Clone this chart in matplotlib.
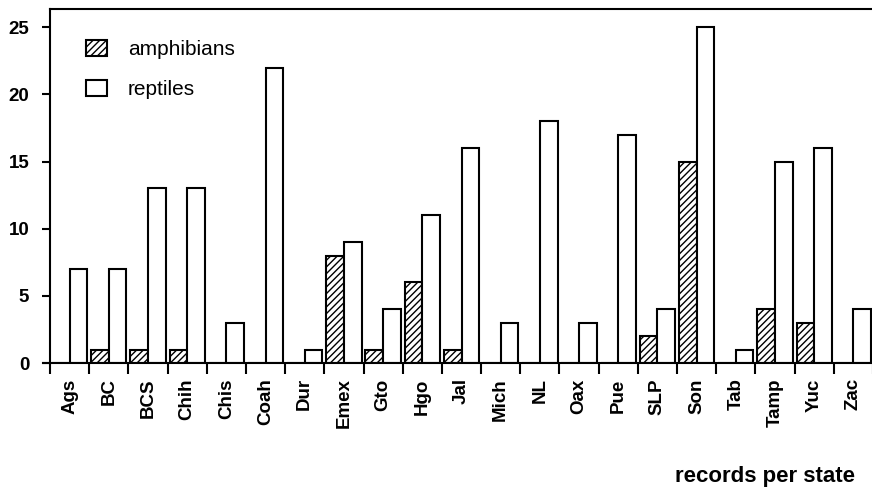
import matplotlib
matplotlib.use("Agg")
import matplotlib.pyplot as plt
from matplotlib.patches import Patch
from matplotlib.lines import Line2D
import numpy as np

plt.rcParams['font.family'] = ['Liberation Sans', 'DejaVu Sans']
plt.rcParams['hatch.linewidth'] = 1.0

states = ["Ags", "BC", "BCS", "Chih", "Chis", "Coah", "Dur", "Emex", "Gto", "Hgo",
          "Jal", "Mich", "NL", "Oax", "Pue", "SLP", "Son", "Tab", "Tamp", "Yuc", "Zac"]
amphibians = [0, 1, 1, 1, 0, 0, 0, 8, 1, 6, 1, 0, 0, 0, 0, 2, 15, 0, 4, 3, 0]
reptiles = [7, 7, 13, 13, 3, 22, 1, 9, 4, 11, 16, 3, 18, 3, 17, 4, 25, 1, 15, 16, 4]
y_ticks = [0, 5, 10, 15, 20, 25]

W, H = 872, 494
fig = plt.figure(figsize=(W / 100, H / 100), dpi=100)
ax = fig.add_axes([50 / W, 131 / H, 823 / W, 354.5 / H])

x = np.arange(len(states))
bw = 0.45
ax.bar(x, amphibians, width=-bw, align='edge', color='white', edgecolor='black',
       linewidth=1.5, hatch='/////', label='amphibians')
ax.bar(x, reptiles, width=bw, align='edge', color='white', edgecolor='black',
       linewidth=1.5, label='reptiles')

ax.set_xlim(-0.5, len(states) - 0.5)
ax.set_ylim(0, 26.4)

ax.spines['right'].set_visible(False)
for s in ('left', 'bottom', 'top'):
    ax.spines[s].set_linewidth(1.5)

# x axis line runs a little past the y axis on the left
ax.add_line(Line2D([-7 / 823, 0], [0, 0], transform=ax.transAxes, color='black',
                   linewidth=1.5, clip_on=False))

ax.set_xticks(x)
ax.set_xticklabels(states, rotation=90, fontsize=13.5, fontweight='bold', va='top')
ax.set_xticks(np.arange(len(states) + 1) - 0.5, minor=True)
ax.tick_params(axis='x', which='major', length=0, pad=11)
ax.tick_params(axis='x', which='minor', length=8, width=1.5, direction='out')

ax.set_yticks(y_ticks)
ax.set_yticklabels([str(v) for v in y_ticks], fontsize=13.5, fontweight='bold')
ax.tick_params(axis='y', length=6, width=1.5, pad=9)

handles = [Patch(facecolor='white', edgecolor='black', hatch='/////', linewidth=1.5),
           Patch(facecolor='white', edgecolor='black', linewidth=1.5)]
fs = 15
em = fs * 100 / 72
ax.legend(handles, ['amphibians', 'reptiles'], loc='upper left',
          bbox_to_anchor=((86 - 50) / 823, 1 - (40 - 8.5) / 354.5),
          frameon=False, fontsize=fs, borderpad=0, borderaxespad=0,
          handlelength=21 / em, handleheight=17 / em,
          handletextpad=21 / em, labelspacing=1.0)

fig.text(855 / W, 1 - 476 / H, 'records per state', ha='right', va='center',
         fontsize=16, fontweight='bold')

fig.savefig('out.png', dpi=100)
